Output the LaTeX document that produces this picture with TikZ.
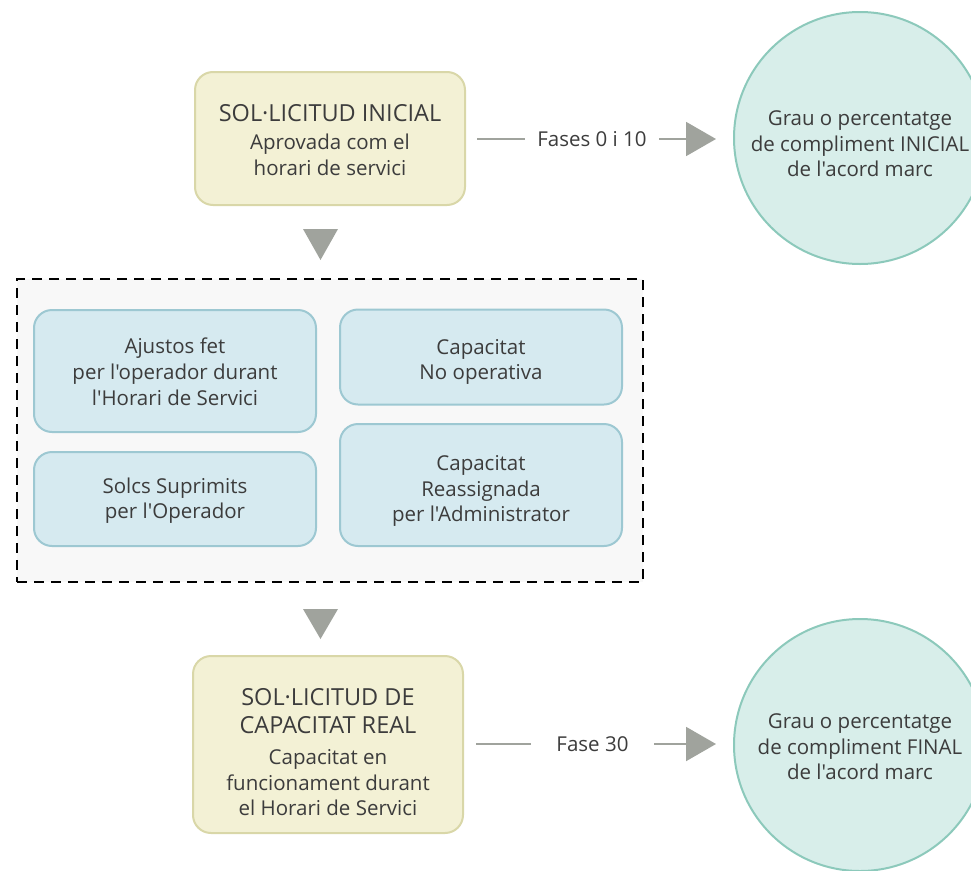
\documentclass[tikz,border=0pt]{standalone}
\usepackage{fontspec}
\setmainfont{Open Sans}[Ligatures=TeXOff]
\usetikzlibrary{arrows.meta,calc}
\definecolor{txt}{HTML}{3C3C3C}
\definecolor{yfill}{HTML}{F3F1D5}
\definecolor{ydraw}{HTML}{D9D7A8}
\definecolor{bfill}{HTML}{D6EAF0}
\definecolor{bdraw}{HTML}{9DC8D2}
\definecolor{cfill}{HTML}{D8EEEA}
\definecolor{cdraw}{HTML}{8CC9BB}
\definecolor{grey}{HTML}{A0A39D}
\definecolor{frfill}{HTML}{F8F8F8}
\newcommand{\titlef}{\fontsize{23.5}{28}\selectfont}
\newcommand{\subf}{\fontsize{20.5}{25.5}\selectfont}
\newcommand{\dn}[2]{\raisebox{-#1}[\height][\depth]{\begin{tabular}{@{}c@{}}#2\end{tabular}}}
\begin{document}
\begin{tikzpicture}[x=1pt,y=-1pt,
  every node/.style={text=txt, inner sep=0pt, align=center, font=\subf},
  ybox/.style={draw=ydraw, fill=yfill, line width=2pt, rounded corners=18pt},
  bbox/.style={draw=bdraw, fill=bfill, line width=2pt, rounded corners=18pt},
  circ/.style={circle, draw=cdraw, fill=cfill, line width=2pt, minimum size=252pt},
  frame/.style={draw=black, fill=frfill, line width=2pt, dash pattern=on 10pt off 7pt},
  conn/.style={draw=grey, line width=2pt},
  arr/.style={conn, -{Triangle[width=34pt,length=30pt]}},
  tri/.style={fill=grey},
  lbl/.style={font=\subf}
]
\useasboundingbox (0,0) rectangle (971,870);

% top row
\node[ybox, minimum width=270pt, minimum height=133pt] (top) at (330,138.5)
  {\dn{5pt}{\titlef SOL·LICITUD INICIAL\\[2.5pt]Aprovada com el\\horari de servici}};
\node[circ] (c1) at (860,138)
  {\dn{8pt}{Grau o percentatge\\de compliment INICIAL\\de l'acord marc}};
\node[lbl, minimum width=134pt, minimum height=20pt] (l1) at (592,139) {Fases 0 i 10};
\draw[conn] ($(l1.west -| top.east)+(11,0)$) -- (l1.west);
\draw[arr] (l1.east) -- ($(l1.east -| c1.west)+(-17,0)$);

% frame
\node[frame, minimum width=626pt, minimum height=303pt] (fr) at (330,430.5) {};
\coordinate (t1) at (320.5,229);
\fill[tri] ($(t1)+(-17.5,0)$) -- ($(t1)+(17.5,0)$) -- ($(t1)+(0,31)$) -- cycle;

\node[bbox, minimum width=282pt, minimum height=122pt] (b1) at (175,371)
  {\dn{3.5pt}{Ajustos fet\\[0.5pt]per l'operador durant\\[0.5pt]l'Horari de Servici}};
\node[bbox, minimum width=282pt, minimum height=95pt] (b2) at (481,357)
  {\dn{5pt}{Capacitat\\No operativa}};
\node[bbox, minimum width=282pt, minimum height=94pt] (b3) at (175,499)
  {\dn{2pt}{Solcs Suprimits\\per l'Operador}};
\node[bbox, minimum width=282pt, minimum height=122pt] (b4) at (481,485)
  {\dn{6pt}{Capacitat\\Reassignada\\per l'Administrator}};

\coordinate (t2) at (320.5,609);
\fill[tri] ($(t2)+(-17.5,0)$) -- ($(t2)+(17.5,0)$) -- ($(t2)+(0,30)$) -- cycle;

% bottom row
\node[ybox, minimum width=270pt, minimum height=177pt] (bot) at (328,744.5)
  {\dn{11pt}{\titlef SOL·LICITUD DE\\[3pt]\titlef CAPACITAT REAL\\[5.5pt]Capacitat en\\funcionament durant\\el Horari de Servici}};
\node[circ] (c2) at (860,745)
  {\dn{4pt}{Grau o percentatge\\de compliment FINAL\\de l'acord marc}};
\node[lbl, minimum width=123pt, minimum height=20pt] (l2) at (592.5,744) {Fase 30};
\draw[conn] ($(l2.west -| bot.east)+(12,0)$) -- (l2.west);
\draw[arr] (l2.east) -- ($(l2.east -| c2.west)+(-17,0)$);
\end{tikzpicture}
\end{document}
